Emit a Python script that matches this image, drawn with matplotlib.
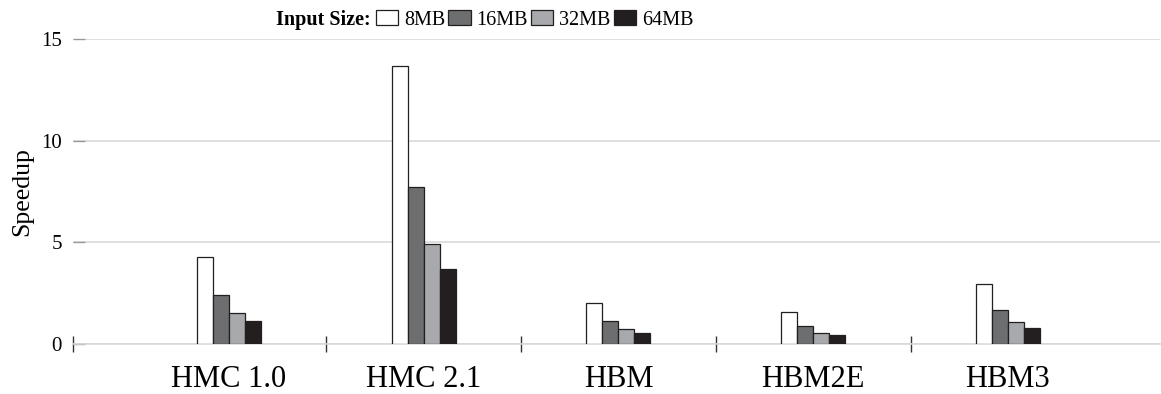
import matplotlib.pyplot as plt
import numpy as np

plt.rcParams['font.family'] = ['Liberation Serif', 'DejaVu Serif']

categories = ["HMC 1.0", "HMC 2.1", "HBM", "HBM2E", "HBM3"]
sizes = ["8MB", "16MB", "32MB", "64MB"]
speedup_8mb = [4.26, 13.69, 2.02, 1.56, 2.97]
speedup_16mb = [2.41, 7.74, 1.15, 0.87, 1.67]
speedup_32mb = [1.52, 4.93, 0.72, 0.56, 1.08]
speedup_64mb = [1.13, 3.67, 0.54, 0.43, 0.80]
yticks = [0, 5, 10, 15]

series = [speedup_8mb, speedup_16mb, speedup_32mb, speedup_64mb]
colors = ["#ffffff", "#6d6e70", "#a7a9ac", "#231f20"]

fig = plt.figure(figsize=(11.61, 3.94), dpi=100)
ax = fig.add_axes([0.0629, 0.1269, 0.9361, 0.7741])

x = np.arange(len(categories))
w = 0.082
for i, (vals, c) in enumerate(zip(series, colors)):
    ax.bar(x + (i - 1.5) * w, vals, w, color=c, edgecolor="#231f20",
           linewidth=0.9, label=sizes[i], zorder=3)

xmin, xmax = -0.8, 4.78
ax.set_xlim(xmin, xmax)
ax.set_ylim(0, 15)

# y axis
ax.set_yticks(yticks)
ax.tick_params(axis="y", direction="in", length=8.5, width=1.0,
               color="#9a9a9a", labelsize=15, pad=8)
ax.grid(axis="y", color="#d6d6d6", linewidth=1.1, zorder=0)
ax.set_ylabel("Speedup", fontsize=18.5)
ax.yaxis.set_label_coords(-0.037, 0.5)

# x axis: separator ticks + labels at group centres
ax.set_xticks([xmin, 0.5, 1.5, 2.5, 3.5])
ax.set_xticklabels([])
ax.tick_params(axis="x", which="major", direction="inout", length=11.5,
               width=1.0, color="#333333")
ax.set_xticks(x, minor=True)
ax.set_xticklabels(categories, minor=True, fontsize=22)
ax.tick_params(axis="x", which="minor", length=0, pad=15)

for s in ["top", "right", "left"]:
    ax.spines[s].set_visible(False)
ax.spines["bottom"].set_color("#d6d6d6")
ax.spines["bottom"].set_linewidth(1.1)

# legend
fig.text(371 / 1161, 1 - 20 / 394, "Input Size:", fontsize=14.5,
         fontweight="bold", ha="right", va="center")
fig.legend(loc="center left", bbox_to_anchor=(376 / 1161, 1 - 20 / 394),
           ncol=4, frameon=False, fontsize=14.5, borderpad=0,
           borderaxespad=0, handlelength=1.1, handleheight=0.7,
           handletextpad=0.3, columnspacing=0.15)

plt.savefig("out.png", dpi=100)
